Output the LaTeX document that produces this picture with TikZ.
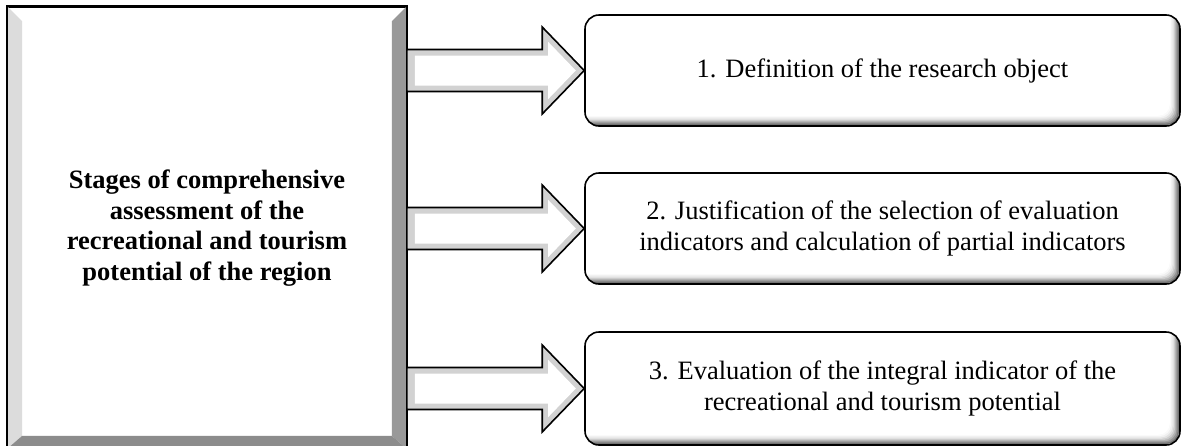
\documentclass[tikz,border=0pt]{standalone}
\usepackage{fontspec}
\setmainfont{Liberation Serif}
\usetikzlibrary{calc}
\definecolor{bevlight}{HTML}{DCDCDC}
\definecolor{bevdark}{HTML}{999999}
\definecolor{bevbottom}{HTML}{8C8C8C}
\definecolor{arrowedge}{HTML}{D2D2D2}
\tikzset{
  leftbox/.style={draw=black, line width=1.8pt, fill=white, inner sep=0pt,
    minimum width=398pt, minimum height=441pt},
  lefttext/.style={align=center, inner sep=0pt,
    font=\bfseries\fontsize{26.5}{30.5}\selectfont},
  stagebox/.style={draw=black, line width=1.6pt, rounded corners=14pt,
    minimum width=595pt, minimum height=111pt, inner sep=0pt, align=center,
    font=\fontsize{26.5}{30.5}\selectfont,
    path picture={
      \foreach \k/\c in {0/55,1/42,2/30,3/20,4/12,5/6,6/2,7/0}{
        \fill[black!\c, rounded corners=12pt]
          ($(path picture bounding box.north west)+(-20,-20)$) rectangle
          ($(path picture bounding box.south east)+(-1.3*\k-1,-1.3*\k-1)$);
      }
    }},
  arrowline/.style={draw=black, line width=1.6pt, line join=miter}
}
\newcommand\bevarrow[2]{%
  \fill[arrowedge] let \p1=(#1), \p2=(#2) in
    (\x1,\y1+21pt) -- (\x2-42pt,\y1+21pt) -- (\x2-42pt,\y1+43.5pt) -- (\x2,\y1)
    -- (\x2-42pt,\y1-43.5pt) -- (\x2-42pt,\y1-21pt) -- (\x1,\y1-21pt) -- cycle;
  \fill[white] let \p1=(#1), \p2=(#2) in
    (\x1+8pt,\y1+15pt) -- (\x2-36pt,\y1+15pt) -- (\x2-36pt,\y1+28.6pt) -- (\x2-8.4pt,\y1)
    -- (\x2-36pt,\y1-28.6pt) -- (\x2-36pt,\y1-15pt) -- (\x1+8pt,\y1-15pt) -- cycle;
  \path[arrowline] let \p1=(#1), \p2=(#2) in
    (\x1,\y1+21pt) -- (\x2-42pt,\y1+21pt) -- (\x2-42pt,\y1+43.5pt) -- (\x2,\y1)
    -- (\x2-42pt,\y1-43.5pt) -- (\x2-42pt,\y1-21pt) -- (\x1,\y1-21pt) -- cycle;
}
\begin{document}
\begin{tikzpicture}[x=1pt,y=-1pt]
\useasboundingbox (0,0) rectangle (1184,445);
% left box
\node[leftbox] (L) at (207,227.5) {};
\fill[bevlight] (L.north west) -- ($(L.north west)+(15,15)$) -- ($(L.south west)+(15,-13)$) -- (L.south west) -- cycle;
\fill[bevdark] (L.north east) -- ($(L.north east)+(-15,15)$) -- ($(L.south east)+(-15,-13)$) -- (L.south east) -- cycle;
\fill[bevbottom] (L.south west) -- ($(L.south west)+(15,-13)$) -- ($(L.south east)+(-15,-13)$) -- (L.south east) -- cycle;
\draw[line width=1.8pt] (L.north west) rectangle (L.south east);
\node[lefttext] (Lt) at (207,228)
  {Stages of comprehensive\\assessment of the\\recreational and tourism\\potential of the region};
% right boxes
\node[stagebox] (b1) at (882.5,70.5) {1. Definition of the research object};
\node[stagebox] (b2) at (882.5,228.5) {2. Justification of the selection of evaluation\\indicators and calculation of partial indicators};
\node[stagebox, minimum height=113pt] (b3) at (882.5,388.5) {3. Evaluation of the integral indicator of the\\recreational and tourism potential};
% arrows
\bevarrow{L.east |- b1.west}{b1.west}
\bevarrow{L.east |- b2.west}{b2.west}
\bevarrow{L.east |- b3.west}{b3.west}
\end{tikzpicture}
\end{document}
